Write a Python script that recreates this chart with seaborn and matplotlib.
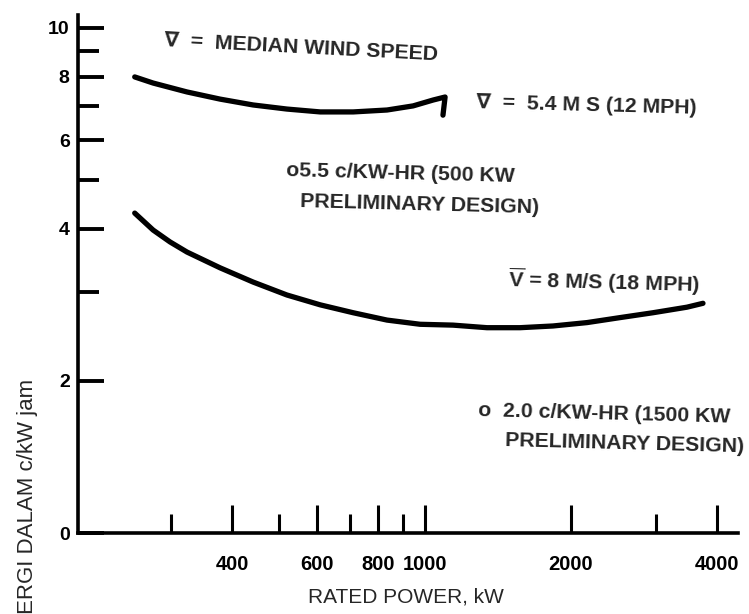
import matplotlib
matplotlib.use("Agg")
import matplotlib.pyplot as plt
from matplotlib.ticker import FixedLocator, FixedFormatter, NullFormatter
import seaborn as sns
import pandas as pd

# ---- data ----
# V = 5.4 m/s curve (kW, cents per kWh); last point is the pen hook at the end
power_low = [252, 275, 323, 378, 442, 519, 608, 711, 835, 945, 1039, 1100, 1089]
cost_low = [8.0, 7.78, 7.47, 7.23, 7.04, 6.91, 6.82, 6.82, 6.88, 7.01, 7.20, 7.30, 6.72]
# V = 8 m/s curve
power_high = [252, 275, 298, 323, 378, 442, 519, 608, 711, 835, 977, 1142,
              1342, 1570, 1836, 2158, 2524, 2952, 3469, 3743]
cost_high = [4.30, 3.98, 3.77, 3.60, 3.35, 3.14, 2.96, 2.83, 2.73, 2.64, 2.59,
             2.58, 2.55, 2.55, 2.57, 2.61, 2.67, 2.73, 2.80, 2.85]

x_major = [400, 600, 800, 1000, 2000, 4000]
x_major_labels = ["400", "600", "800", "1000", "2000", "4000"]
x_minor = [300, 500, 700, 900, 3000]
y_major = [1, 2, 4, 6, 8, 10]
y_major_labels = ["0", "2", "4", "6", "8", "10"]
y_minor = [3, 5, 7, 9]

sns.set_style("ticks")
plt.rcParams["font.family"] = ["Liberation Sans", "DejaVu Sans"]
plt.rcParams["mathtext.fontset"] = "custom"
plt.rcParams["mathtext.rm"] = "Liberation Sans"
plt.rcParams["mathtext.bf"] = "Liberation Sans:bold"

W, H = 749, 614
fig = plt.figure(figsize=(W / 100, H / 100), dpi=100)
ax = fig.add_axes([78 / W, (H - 533) / H, (738 - 78) / W, (533 - 15) / H])

df_low = pd.DataFrame({"power": power_low, "cost": cost_low})
df_high = pd.DataFrame({"power": power_high, "cost": cost_high})
for d in (df_low, df_high):
    sns.lineplot(data=d, x="power", y="cost", ax=ax, color="black", lw=3.8,
                 sort=False, estimator=None, solid_capstyle="round",
                 solid_joinstyle="round")

ax.set_xscale("log")
ax.set_yscale("log")
ax.set_xlim(192.5, 4420)
ax.set_ylim(1, 10.61)

ax.xaxis.set_major_locator(FixedLocator(x_major))
ax.xaxis.set_major_formatter(FixedFormatter(x_major_labels))
ax.xaxis.set_minor_locator(FixedLocator(x_minor))
ax.xaxis.set_minor_formatter(NullFormatter())
ax.yaxis.set_major_locator(FixedLocator(y_major))
ax.yaxis.set_major_formatter(FixedFormatter(y_major_labels))
ax.yaxis.set_minor_locator(FixedLocator(y_minor))
ax.yaxis.set_minor_formatter(NullFormatter())

ax.tick_params(axis="x", which="both", bottom=True, top=False)
ax.tick_params(axis="y", which="both", left=True, right=False)
ax.tick_params(axis="x", which="major", direction="in", length=20, width=2.2,
               pad=16, labelsize=14.5, color="black", labelcolor="black")
ax.tick_params(axis="x", which="minor", direction="in", length=14, width=2.2,
               color="black")
ax.tick_params(axis="y", which="major", direction="in", length=19, width=2.8,
               pad=6, labelsize=14, color="black", labelcolor="black")
ax.tick_params(axis="y", which="minor", direction="in", length=15, width=2.8,
               color="black")
for lab in ax.get_xticklabels() + ax.get_yticklabels():
    lab.set_fontweight("bold")

for s in ["top", "right"]:
    ax.spines[s].set_visible(False)
for s in ["left", "bottom"]:
    ax.spines[s].set_linewidth(2.6)
    ax.spines[s].set_color("black")

ax.set_xlabel("RATED POWER, kW", fontsize=15)
ax.xaxis.label.set_va("center")
ax.xaxis.set_label_coords((406 - 78) / (738 - 78), -(597 - 533) / (533 - 15))
ax.set_ylabel("ERGI DALAM c/kW jam", fontsize=16)
ax.yaxis.label.set_va("center")
ax.yaxis.set_label_coords((28 - 78) / (738 - 78), (533 - 496) / (533 - 15))


def ptext(x, y, s, rot=0.0, size=15.3):
    fig.text(x / W, 1 - y / H, s, ha="left", va="center", fontsize=size,
             fontweight="bold", rotation=rot, rotation_mode="anchor")


ptext(164, 40, "\u2207  =  MEDIAN WIND SPEED", rot=-3)
ptext(476, 103, "\u2207  =  5.4 M S (12 MPH)", rot=-1.5)
ptext(286, 171, "o5.5 c/KW-HR (500 KW", rot=-1.5)
ptext(300, 202, "PRELIMINARY DESIGN)", rot=-1.5)
ptext(508, 279, r"$\overline{\mathbf{V}}$ = 8 M/S (18 MPH)", rot=-1.5)
ptext(478, 411, "o  2.0 c/KW-HR (1500 KW", rot=-1.5)
ptext(505, 441, "PRELIMINARY DESIGN)", rot=-1.5)

fig.savefig("out.png", dpi=100, facecolor="white")
